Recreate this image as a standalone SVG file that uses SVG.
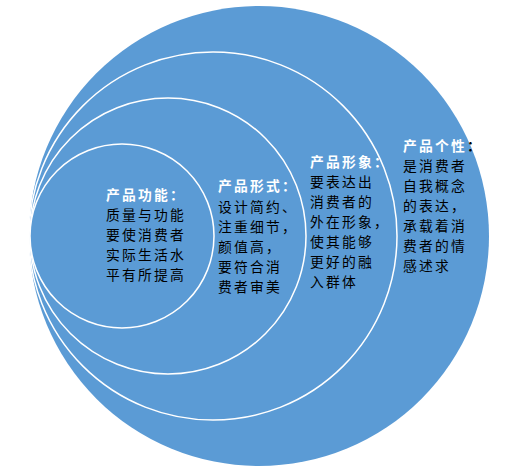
<svg xmlns="http://www.w3.org/2000/svg" width="519" height="473" viewBox="0 0 519 473">
<style>
.c{fill:#5B9BD5;stroke:#FFFFFF;stroke-width:1.5}
.o{fill:#5B9BD5;stroke:none}
.x{font-family:"Noto Sans CJK SC","Noto Sans",sans-serif;font-size:13.8px;letter-spacing:2.2px;fill:#000000}
.t{font-weight:bold;fill:#FFFFFF}
.k{fill:#000000}
</style>
<rect width="519" height="473" fill="#FFFFFF"/>
<g id="personality">
<circle class="o" cx="259" cy="236" r="230"/>
<text class="x"><tspan class="t" x="403" y="151">产品个性<tspan class="k">：</tspan></tspan><tspan x="403" y="171">是消费者</tspan><tspan x="403" y="191">自我概念</tspan><tspan x="403" y="211">的表达，</tspan><tspan x="403" y="231">承载着消</tspan><tspan x="403" y="251">费者的情</tspan><tspan x="403" y="271">感述求</tspan></text>
</g>
<g id="image">
<circle class="c" cx="213" cy="236" r="184"/>
<text class="x"><tspan class="t" x="310" y="167">产品形象：</tspan><tspan x="310" y="187">要表达出</tspan><tspan x="310" y="207">消费者的</tspan><tspan x="310" y="227">外在形象，</tspan><tspan x="310" y="247">使其能够</tspan><tspan x="310" y="267">更好的融</tspan><tspan x="310" y="287">入群体</tspan></text>
</g>
<g id="form">
<circle class="c" cx="168" cy="236" r="138"/>
<text class="x"><tspan class="t" x="218" y="191">产品形式：</tspan><tspan x="218" y="212">设计简约、</tspan><tspan x="218" y="232">注重细节，</tspan><tspan x="218" y="252">颜值高，</tspan><tspan x="218" y="272">要符合消</tspan><tspan x="218" y="292">费者审美</tspan></text>
</g>
<g id="function">
<circle class="c" cx="122" cy="236" r="92"/>
<text class="x"><tspan class="t" x="106" y="200">产品功能：</tspan><tspan x="106" y="220">质量与功能</tspan><tspan x="106" y="240">要使消费者</tspan><tspan x="106" y="260">实际生活水</tspan><tspan x="106" y="280">平有所提高</tspan></text>
</g>
<g id="connectors"></g>
</svg>
